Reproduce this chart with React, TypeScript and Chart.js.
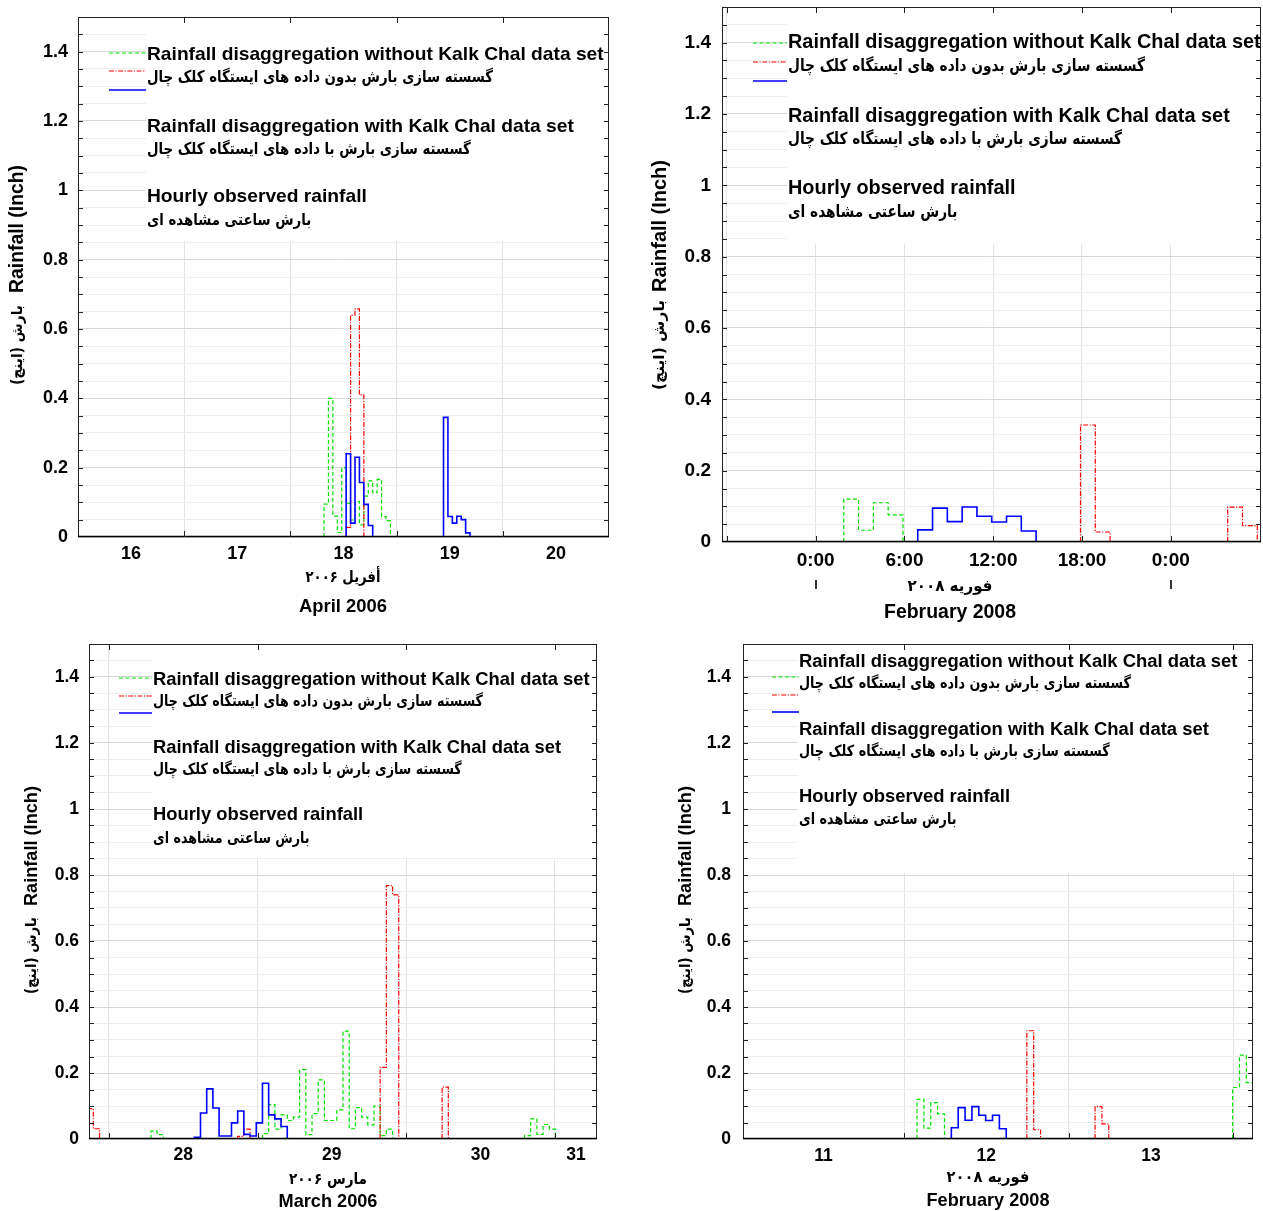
import React, { useEffect, useRef } from 'react';
import { Chart, registerables } from 'chart.js';

Chart.register(...registerables);

// ---------------- DATA ----------------
// April 2006 (hours after 16 April 00:00)
const aprilDayLabels = ['16', '17', '18', '19', '20'];
const aprilLabelHours = [12, 36, 60, 84, 108];
const aprilGridHours = [24, 48, 72, 96];
const aprilGreenStarts = [55.6];
const aprilGreenValues = [[0.095, 0.4, 0.06, 0.013, 0.2, 0.097, 0.049, 0.102, 0.035, 0.118, 0.162, 0.128, 0.166, 0.059, 0.047]];
const aprilRedStarts = [60.6];
const aprilRedValues = [[0.028, 0.64, 0.658, 0.41]];
const aprilBlueStarts = [60.6, 82.6];
const aprilBlueValues = [[0.24, 0.04, 0.23, 0.157, 0.094, 0.033], [0.345, 0.059, 0.04, 0.06, 0.05, 0.012]];

// February 2008 (hours after 12 February 00:00)
const febHourLabels = ['0:00', '6:00', '12:00', '18:00', '0:00'];
const febHourLabelHours = [0, 6, 12, 18, 24];
const febHourGridHours = [-6, 0, 6, 12, 18, 24];
const febDayLabels = ['11', '12', '13'];
const febDayLabelHours = [-11.73, 12, 36];
const febDayGridHours = [0, 24, 48];
const febGreenStarts = [1.9, 47.9];
const febGreenValues = [[0.12, 0.033, 0.11, 0.076], [0.156, 0.254, 0.171]];
const febRedStarts = [17.9, 27.85];
const febRedValues = [[0.328, 0.028], [0.098, 0.046]];
const febBlueStarts = [6.9];
const febBlueValues = [[0.034, 0.095, 0.057, 0.098, 0.072, 0.056, 0.072, 0.031]];

// March 2006 (hours after 28 March 00:00)
const marDayLabels = ['28', '29', '30', '31'];
const marLabelHours = [12, 36, 60, 75.4];
const marGridHours = [0, 24, 48, 72];
const marGreenStarts = [6.8, 24.8, 67.1];
const marGreenValues = [
  [0.024, 0.013],
  [0.016, 0.104, 0.03, 0.073, 0.056, 0.066, 0.21, 0.013, 0.077, 0.179, 0.056, 0.056, 0.088, 0.327, 0.031, 0.095, 0.066, 0.043, 0.1, 0.01, 0.03],
  [0.01, 0.061, 0.014, 0.044, 0.03],
];
const marRedStarts = [-3.5, 20.8, 43.8, 53.8];
const marRedValues = [[0.092, 0.031], [0.008, 0.03], [0.217, 0.768, 0.74], [0.157]];
const marBlueStarts = [13.8];
const marBlueValues = [[0.005, 0.079, 0.152, 0.094, 0.009, 0.009, 0.049, 0.085, 0.014, 0.009, 0.049, 0.169, 0.073, 0.061, 0.038]];

// y axis
const yTickLabels = ['0', '0.2', '0.4', '0.6', '0.8', '1', '1.2', '1.4'];
const yMinorStep = 0.05;
const yMinorPerLabel = 4;
const yMinorCount = 30;

// texts
const legendEn = [
  'Rainfall disaggregation without Kalk Chal data set',
  'Rainfall disaggregation with Kalk Chal data set',
  'Hourly observed rainfall',
];
const legendFa = [
  'گسسته سازی بارش بدون داده های ایستگاه کلک چال',
  'گسسته سازی بارش با داده های ایستگاه کلک چال',
  'بارش ساعتی مشاهده ای',
];
const yTitleEn = 'Rainfall (Inch)';
const yTitleFa = 'بارش (اینچ)';

// ---------------- STYLE ----------------
const EN = '"Liberation Sans", Arial, sans-serif';
const FA = '"DejaVu Sans", sans-serif';
const GREEN = '#00e000';
const RED = '#ff0000';
const BLUE = '#0000ff';
const GREEN_DASH = [4, 2.5];
const RED_DASH = [5, 1.5, 1.2, 1.5];

type Series = { starts: number[]; values: number[][] };
type PanelCfg = {
  canvas: { left: number; top: number; w: number; h: number };
  plot: { l: number; t: number; r: number; b: number };
  yAxisW: number;
  yPad: number;
  xAxisH: number;
  xPad: number;
  tickFont: number;
  xMin: number;
  xMax: number;
  gridHours: number[];
  labelHours: number[];
  labels: string[];
  green: Series;
  red: Series;
  blue: Series;
  legend: {
    textX: number; sx0: number; sx1: number; boxBottom: number;
    en: number[]; fa: number[]; samples: number[];
    enTarget: number; faTarget: number; faSize: number;
  };
  yTitle: { x: number; cy: number; enStart: number; faEnd: number; enTarget: number; faTarget: number };
  xTitle: { cx: number; faY: number; faTarget: number; faText: string; enY: number; enTarget: number; enText: string };
  dayMarks?: number[];
};

const panels: PanelCfg[] = [
  {
    canvas: { left: 0, top: 0, w: 640, h: 630 },
    plot: { l: 78, t: 17, r: 609, b: 537 },
    yAxisW: 45, yPad: 10, xAxisH: 30, xPad: 6, tickFont: 18,
    xMin: 0, xMax: 120,
    gridHours: aprilGridHours, labelHours: aprilLabelHours, labels: aprilDayLabels,
    green: { starts: aprilGreenStarts, values: aprilGreenValues },
    red: { starts: aprilRedStarts, values: aprilRedValues },
    blue: { starts: aprilBlueStarts, values: aprilBlueValues },
    legend: { textX: 147, sx0: 109, sx1: 146, boxBottom: 240, en: [55, 127, 197], fa: [78, 150, 221], samples: [53, 71, 90], enTarget: 457, faTarget: 346, faSize: 16 },
    yTitle: { x: 18, cy: 277, enStart: -16, faEnd: -28, enTarget: 128, faTarget: 80 },
    xTitle: { cx: 343, faY: 578, faTarget: 75, faText: 'أفریل ۲۰۰۶', enY: 607, enTarget: 88, enText: 'April 2006' },
  },
  {
    canvas: { left: 640, top: 0, w: 623, h: 630 },
    plot: { l: 722, t: 7, r: 1261, b: 542 },
    yAxisW: 50, yPad: 11, xAxisH: 30, xPad: 7, tickFont: 19,
    xMin: -6.33, xMax: 30.1,
    gridHours: febHourGridHours, labelHours: febHourLabelHours, labels: febHourLabels,
    green: { starts: febGreenStarts, values: febGreenValues },
    red: { starts: febRedStarts, values: febRedValues },
    blue: { starts: febBlueStarts, values: febBlueValues },
    legend: { textX: 788, sx0: 753, sx1: 787, boxBottom: 243, en: [43, 117, 189], fa: [67, 140, 213], samples: [43, 62, 81], enTarget: 473, faTarget: 357, faSize: 16.5 },
    yTitle: { x: 660, cy: 275, enStart: -17, faEnd: -25, enTarget: 132, faTarget: 90 },
    xTitle: { cx: 950, faY: 587, faTarget: 85, faText: 'فوریه ۲۰۰۸', enY: 613, enTarget: 132, enText: 'February 2008' },
    dayMarks: [0, 24],
  },
  {
    canvas: { left: 0, top: 630, w: 640, h: 581 },
    plot: { l: 89, t: 644, r: 597, b: 1139 },
    yAxisW: 45, yPad: 10, xAxisH: 28, xPad: 6, tickFont: 17.5,
    xMin: -3.2, xMax: 78.8,
    gridHours: marGridHours, labelHours: marLabelHours, labels: marDayLabels,
    green: { starts: marGreenStarts, values: marGreenValues },
    red: { starts: marRedStarts, values: marRedValues },
    blue: { starts: marBlueStarts, values: marBlueValues },
    legend: { textX: 153, sx0: 119, sx1: 152, boxBottom: 857, en: [680, 748, 815], fa: [702, 770, 839], samples: [678, 696, 713], enTarget: 437, faTarget: 330, faSize: 15.5 },
    yTitle: { x: 32, cy: 891, enStart: -15, faEnd: -26, enTarget: 120, faTarget: 77 },
    xTitle: { cx: 328, faY: 1180, faTarget: 78, faText: 'مارس ۲۰۰۶', enY: 1202, enTarget: 99, enText: 'March 2006' },
  },
  {
    canvas: { left: 640, top: 630, w: 623, h: 581 },
    plot: { l: 743, t: 644, r: 1253, b: 1139 },
    yAxisW: 45, yPad: 12, xAxisH: 28, xPad: 7, tickFont: 17.5,
    xMin: -23.47, xMax: 50.87,
    gridHours: febDayGridHours, labelHours: febDayLabelHours, labels: febDayLabels,
    green: { starts: febGreenStarts, values: febGreenValues },
    red: { starts: febRedStarts, values: febRedValues },
    blue: { starts: febBlueStarts, values: febBlueValues },
    legend: { textX: 799, sx0: 772, sx1: 799, boxBottom: 872, en: [662, 730, 797], fa: [684, 752, 820], samples: [677, 695, 712], enTarget: 439, faTarget: 332, faSize: 15.5 },
    yTitle: { x: 686, cy: 891, enStart: -15, faEnd: -26, enTarget: 120, faTarget: 77 },
    xTitle: { cx: 988, faY: 1178, faTarget: 83, faText: 'فوریه ۲۰۰۸', enY: 1201, enTarget: 123, enText: 'February 2008' },
  },
];

function stepPoints(s: Series) {
  const pts: { x: number; y: number | null }[] = [];
  s.starts.forEach((start, ci) => {
    const vals = s.values[ci];
    if (ci > 0) pts.push({ x: start, y: null });
    pts.push({ x: start, y: 0 });
    vals.forEach((v, i) => pts.push({ x: start + i, y: v }));
    pts.push({ x: start + vals.length, y: 0 });
  });
  return pts;
}

function fit(ctx: CanvasRenderingContext2D, text: string, family: string, target: number) {
  const base = 20;
  ctx.save();
  ctx.font = `bold ${base}px ${family}`;
  const w = ctx.measureText(text).width;
  ctx.restore();
  return (base * target) / w;
}

// draw RTL Persian text at a given size, squeezed horizontally to a target width
function drawFa(
  ctx: CanvasRenderingContext2D, text: string, size: number, target: number,
  x: number, y: number, align: 'left' | 'right' | 'center',
) {
  ctx.save();
  ctx.direction = 'rtl';
  ctx.font = `bold ${size}px ${FA}`;
  const w = ctx.measureText(text).width;
  const sx = Math.min(1.15, target / w);
  ctx.translate(x, y);
  ctx.scale(sx, 1);
  ctx.textAlign = align;
  ctx.textBaseline = 'middle';
  ctx.fillText(text, 0, 0);
  ctx.restore();
}

function decor(p: PanelCfg) {
  return {
    id: 'decor',
    afterDatasetsDraw(chart: any) {
      const ctx: CanvasRenderingContext2D = chart.ctx;
      const ox = p.canvas.left;
      const oy = p.canvas.top;
      const { left: L, right: R, top: T, bottom: B } = chart.chartArea;
      const xs = chart.scales.x;
      const ys = chart.scales.y;
      const lg = p.legend;
      ctx.save();
      // legend backdrop
      ctx.fillStyle = '#ffffff';
      ctx.fillRect(lg.textX - ox - 1, T + 1, R - (lg.textX - ox), lg.boxBottom - oy - T);
      // frame
      ctx.strokeStyle = '#222';
      ctx.lineWidth = 1;
      ctx.strokeRect(Math.round(L) + 0.5, Math.round(T) + 0.5, Math.round(R - L) - 1, Math.round(B - T) - 1);
      ctx.strokeStyle = '#000';
      ctx.lineWidth = 1.6;
      ctx.beginPath();
      ctx.moveTo(L, Math.round(B) - 0.5);
      ctx.lineTo(R, Math.round(B) - 0.5);
      ctx.stroke();
      // inward ticks
      ctx.lineWidth = 1;
      ctx.strokeStyle = '#222';
      ctx.beginPath();
      for (let k = 1; k < yMinorCount; k++) {
        const py = Math.round(ys.getPixelForValue(k * yMinorStep)) + 0.5;
        ctx.moveTo(L, py); ctx.lineTo(L + 5, py);
        ctx.moveTo(R, py); ctx.lineTo(R - 5, py);
      }
      p.gridHours.forEach((h) => {
        const px = Math.round(xs.getPixelForValue(h)) + 0.5;
        ctx.moveTo(px, T); ctx.lineTo(px, T + 6);
        ctx.moveTo(px, B); ctx.lineTo(px, B - 6);
      });
      ctx.stroke();
      // legend samples
      const samples: [string, number[], number][] = [[GREEN, GREEN_DASH, 1.2], [RED, RED_DASH, 1.2], [BLUE, [], 1.6]];
      samples.forEach(([c, d, w], i) => {
        ctx.strokeStyle = c; ctx.lineWidth = w; ctx.setLineDash(d);
        ctx.beginPath();
        ctx.moveTo(lg.sx0 - ox, lg.samples[i] - oy);
        ctx.lineTo(lg.sx1 - ox, lg.samples[i] - oy);
        ctx.stroke();
      });
      ctx.setLineDash([]);
      // legend texts
      ctx.fillStyle = '#000';
      ctx.textBaseline = 'middle';
      const enSize = fit(ctx, legendEn[0], EN, lg.enTarget);
      ctx.font = `bold ${lg.faSize}px ${FA}`;
      ctx.direction = 'rtl';
      const faScale = lg.faTarget / ctx.measureText(legendFa[0]).width;
      ctx.direction = 'ltr';
      legendEn.forEach((t, i) => {
        ctx.direction = 'ltr'; ctx.textAlign = 'left';
        ctx.font = `bold ${enSize}px ${EN}`;
        ctx.fillText(t, lg.textX - ox, lg.en[i] - oy);
      });
      legendFa.forEach((t, i) => {
        ctx.save();
        ctx.direction = 'rtl';
        ctx.font = `bold ${lg.faSize}px ${FA}`;
        const w = ctx.measureText(t).width;
        drawFa(ctx, t, lg.faSize, w * faScale, lg.textX - ox, lg.fa[i] - oy, 'left');
        ctx.restore();
      });
      // y title
      const yt = p.yTitle;
      const ytEn = fit(ctx, yTitleEn, EN, yt.enTarget);
      ctx.save();
      ctx.translate(yt.x - ox, yt.cy - oy);
      ctx.rotate(-Math.PI / 2);
      ctx.direction = 'ltr'; ctx.textAlign = 'left'; ctx.textBaseline = 'middle';
      ctx.font = `bold ${ytEn}px ${EN}`;
      ctx.fillText(yTitleEn, yt.enStart, 0);
      drawFa(ctx, yTitleFa, 15, yt.faTarget, yt.faEnd, 0, 'right');
      ctx.restore();
      // x titles
      const xt = p.xTitle;
      const xtEn = fit(ctx, xt.enText, EN, xt.enTarget);
      drawFa(ctx, xt.faText, 16, xt.faTarget, xt.cx - ox, xt.faY - oy, 'center');
      ctx.direction = 'ltr'; ctx.textAlign = 'center'; ctx.textBaseline = 'middle';
      ctx.font = `bold ${xtEn}px ${EN}`;
      ctx.fillText(xt.enText, xt.cx - ox, xt.enY - oy);
      // day marks below axis
      if (p.dayMarks) {
        ctx.strokeStyle = '#333'; ctx.lineWidth = 2;
        ctx.beginPath();
        p.dayMarks.forEach((h) => {
          const px = Math.round(xs.getPixelForValue(h));
          ctx.moveTo(px, B + 38); ctx.lineTo(px, B + 47);
        });
        ctx.stroke();
      }
      ctx.restore();
    },
  };
}

function buildConfig(p: PanelCfg): any {
  const c = p.canvas;
  const tickFont = { family: EN, weight: 'bold', size: p.tickFont, lineHeight: 1.2 };
  const ds = (label: string, s: Series, color: string, dash: number[], width: number) => ({
    label,
    data: stepPoints(s),
    borderColor: color,
    borderWidth: width,
    borderDash: dash,
    stepped: 'before',
    pointRadius: 0,
    fill: false,
    spanGaps: false,
  });
  return {
    type: 'line',
    data: {
      datasets: [
        ds('Rainfall disaggregation with Kalk Chal data set', p.blue, BLUE, [], 1.6),
        ds('Hourly observed rainfall', p.red, RED, RED_DASH, 1.2),
        ds('Rainfall disaggregation without Kalk Chal data set', p.green, GREEN, GREEN_DASH, 1.2),
      ],
    },
    options: {
      animation: false,
      responsive: false,
      devicePixelRatio: 1,
      events: [],
      layout: {
        padding: {
          left: p.plot.l - c.left - p.yAxisW,
          right: c.left + c.w - p.plot.r,
          top: p.plot.t - c.top,
          bottom: c.top + c.h - p.plot.b - p.xAxisH,
        },
      },
      plugins: { legend: { display: false }, title: { display: false }, tooltip: { enabled: false } },
      scales: {
        x: {
          type: 'linear', position: 'bottom', min: p.xMin, max: p.xMax,
          afterBuildTicks: (s: any) => { s.ticks = p.gridHours.map((v) => ({ value: v })); },
          afterFit: (s: any) => { s.height = 0; s.paddingLeft = 0; s.paddingRight = 0; },
          ticks: { display: false },
          grid: { color: '#e3e3e3', lineWidth: 1, drawTicks: false },
          border: { display: false },
        },
        xl: {
          type: 'linear', position: 'bottom', min: p.xMin, max: p.xMax,
          afterBuildTicks: (s: any) => { s.ticks = p.labelHours.map((v) => ({ value: v })); },
          afterFit: (s: any) => { s.height = p.xAxisH; s.paddingLeft = 0; s.paddingRight = 0; },
          ticks: { callback: (_v: any, i: number) => p.labels[i], padding: p.xPad, font: tickFont, color: '#000', autoSkip: false, maxRotation: 0 },
          grid: { display: false, drawTicks: false },
          border: { display: false },
        },
        y: {
          type: 'linear', position: 'left', min: 0, max: 1.5,
          afterBuildTicks: (s: any) => {
            const t: { value: number }[] = [];
            for (let k = 0; k < yMinorCount; k++) t.push({ value: k * yMinorStep });
            s.ticks = t;
          },
          afterFit: (s: any) => { s.width = p.yAxisW; s.paddingTop = 0; s.paddingBottom = 0; },
          ticks: {
            callback: (_v: any, i: number) => (i % yMinorPerLabel === 0 ? yTickLabels[i / yMinorPerLabel] : ''),
            padding: p.yPad, font: tickFont, color: '#000', autoSkip: false,
          },
          grid: {
            color: (ctx: any) => (ctx.index % yMinorPerLabel === 0 ? '#d9d9d9' : '#eeeeee'),
            lineWidth: 1, drawTicks: false,
          },
          border: { display: false },
        },
      },
    },
    plugins: [decor(p)],
  };
}

function Panel({ p }: { p: PanelCfg }) {
  const ref = useRef<HTMLCanvasElement>(null);
  useEffect(() => {
    if (!ref.current) return;
    const chart = new Chart(ref.current, buildConfig(p));
    return () => chart.destroy();
  }, [p]);
  return (
    <canvas
      ref={ref}
      width={p.canvas.w}
      height={p.canvas.h}
      style={{ position: 'absolute', left: p.canvas.left, top: p.canvas.top, width: p.canvas.w, height: p.canvas.h }}
    />
  );
}

export default function App() {
  return (
    <div style={{ position: 'absolute', left: 0, top: 0, width: 1263, height: 1211, background: '#fff', overflow: 'hidden' }}>
      {panels.map((p, i) => (
        <Panel key={i} p={p} />
      ))}
    </div>
  );
}
